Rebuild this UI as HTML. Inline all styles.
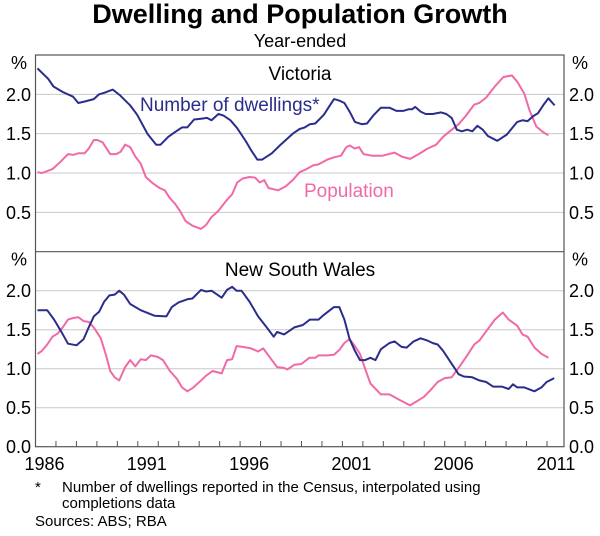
<!DOCTYPE html>
<html><head><meta charset="utf-8">
<style>
body{margin:0;background:#fff;}
svg text{font-family:"Liberation Sans",Arial,sans-serif;}
</style></head>
<body>
<svg id="c" width="600" height="531" viewBox="0 0 600 531" xmlns="http://www.w3.org/2000/svg">
<text x="300" y="23" text-anchor="middle" font-size="27" font-weight="bold" fill="#000">Dwelling and Population Growth</text>
<text x="300" y="47" text-anchor="middle" font-size="18" fill="#000">Year-ended</text>
<g id="plot"></g>
<text x="35" y="492" font-size="15" fill="#000">*</text>
<text x="62" y="492" font-size="15" fill="#000">Number of dwellings reported in the Census, interpolated using</text>
<text x="62" y="508" font-size="15" fill="#000">completions data</text>
<text x="35" y="526" font-size="15" fill="#000">Sources: ABS; RBA</text>
</svg>
<script>
// years since 1986
const vicDwT=[.10,.41,.61,.88,1.33,1.84,2.09,2.43,2.85,3.11,3.36,3.78,4.12,4.63,4.97,5.47,5.90,6.11,6.49,6.82,7.16,7.42,7.75,8.09,8.38,8.60,8.94,9.19,9.53,9.86,10.29,10.54,10.84,11.08,11.55,11.98,12.57,12.91,13.16,13.41,13.67,14.09,14.34,14.59,14.85,15.10,15.35,15.61,15.95,16.20,16.54,16.88,17.30,17.64,17.97,18.23,18.40,18.56,18.82,19.07,19.41,19.83,20.08,20.34,20.59,20.84,21.10,21.35,21.60,21.86,22.11,22.57,23.04,23.29,23.55,23.80,24.05,24.31,24.56,24.81,25.07,25.37];
const vicDwV=[2.33,2.25,2.20,2.10,2.03,1.97,1.89,1.91,1.94,2.00,2.02,2.06,1.99,1.86,1.74,1.50,1.36,1.36,1.46,1.52,1.58,1.58,1.68,1.69,1.70,1.67,1.75,1.73,1.67,1.57,1.40,1.29,1.17,1.17,1.25,1.36,1.50,1.56,1.58,1.62,1.63,1.74,1.84,1.94,1.92,1.89,1.78,1.65,1.62,1.63,1.74,1.83,1.83,1.79,1.79,1.81,1.81,1.84,1.78,1.75,1.75,1.77,1.75,1.70,1.55,1.53,1.55,1.53,1.60,1.55,1.47,1.41,1.49,1.57,1.65,1.67,1.66,1.72,1.76,1.86,1.95,1.86];
const vicPopT=[.10,.32,.83,1.25,1.59,1.84,2.09,2.40,2.60,2.85,3.02,3.28,3.65,3.95,4.16,4.38,4.63,4.88,5.14,5.39,5.73,6.06,6.32,6.57,6.82,7.08,7.33,7.67,8.09,8.34,8.60,8.94,9.36,9.61,9.86,10.12,10.46,10.74,10.96,11.18,11.39,11.86,12.23,12.57,12.91,13.24,13.58,13.83,14.26,14.59,14.93,15.19,15.35,15.61,15.81,16.03,16.45,16.96,17.55,17.89,18.31,18.73,19.16,19.58,19.92,20.25,20.68,21.01,21.44,21.69,22.03,22.45,22.87,23.29,23.55,23.89,24.14,24.48,24.81,25.07];
const vicPopV=[1.01,1.00,1.05,1.15,1.24,1.23,1.25,1.25,1.31,1.42,1.42,1.39,1.24,1.24,1.27,1.36,1.33,1.21,1.12,0.95,0.87,0.81,0.78,0.68,0.61,0.51,0.39,0.33,0.29,0.34,0.44,0.52,0.66,0.73,0.88,0.93,0.95,0.94,0.88,0.91,0.81,0.78,0.83,0.91,1.01,1.05,1.10,1.11,1.17,1.20,1.22,1.33,1.35,1.31,1.33,1.24,1.22,1.22,1.26,1.21,1.18,1.24,1.31,1.36,1.46,1.53,1.62,1.72,1.87,1.89,1.96,2.10,2.22,2.24,2.16,2.01,1.80,1.59,1.52,1.48];
const nswDwT=[.10,.57,.91,1.25,1.59,2.01,2.35,2.60,2.85,3.11,3.36,3.61,3.87,4.09,4.32,4.63,5.14,5.81,6.40,6.66,6.99,7.42,7.67,8.09,8.34,8.60,9.10,9.36,9.61,9.83,10.07,10.46,10.88,11.30,11.64,11.81,12.15,12.65,13.07,13.41,13.83,14.09,14.59,14.85,15.10,15.35,15.61,15.86,16.11,16.37,16.62,16.88,17.30,17.55,17.89,18.14,18.48,18.82,19.16,19.41,19.66,19.92,20.25,20.68,20.93,21.35,21.69,22.03,22.36,22.79,23.13,23.34,23.55,23.89,24.39,24.73,24.98,25.35];
const nswDwV=[1.75,1.75,1.63,1.48,1.32,1.30,1.38,1.53,1.67,1.73,1.86,1.94,1.95,2.00,1.95,1.83,1.75,1.68,1.67,1.79,1.85,1.89,1.90,2.01,1.99,2.00,1.91,2.01,2.05,2.00,2.00,1.86,1.67,1.53,1.41,1.47,1.44,1.53,1.56,1.63,1.63,1.69,1.79,1.79,1.63,1.38,1.23,1.11,1.11,1.14,1.11,1.25,1.33,1.35,1.28,1.27,1.35,1.39,1.36,1.33,1.31,1.23,1.10,0.93,0.90,0.89,0.85,0.83,0.77,0.77,0.74,0.80,0.76,0.76,0.71,0.76,0.83,0.88];
const nswPopT=[.10,.32,.57,.83,1.08,1.33,1.59,1.84,2.09,2.35,2.60,2.85,3.19,3.45,3.65,3.87,4.09,4.38,4.63,4.88,5.14,5.39,5.64,5.98,6.23,6.57,6.91,7.16,7.42,7.67,8.01,8.34,8.65,9.10,9.36,9.61,9.83,10.12,10.54,10.88,11.13,11.47,11.81,12.15,12.31,12.65,12.99,13.38,13.67,13.83,14.26,14.59,14.85,15.10,15.35,15.61,15.86,16.11,16.37,16.88,17.30,17.72,18.31,18.99,19.32,19.66,20.00,20.34,20.76,21.10,21.44,21.69,22.03,22.45,22.84,23.13,23.55,23.80,24.05,24.39,24.73,25.07];
const nswPopV=[1.19,1.23,1.31,1.41,1.45,1.53,1.63,1.65,1.66,1.61,1.60,1.53,1.39,1.17,0.97,0.89,0.85,1.02,1.11,1.03,1.12,1.11,1.17,1.15,1.11,0.97,0.87,0.76,0.71,0.75,0.83,0.91,0.97,0.94,1.11,1.12,1.29,1.28,1.26,1.22,1.26,1.14,1.02,1.01,0.99,1.05,1.06,1.14,1.14,1.17,1.17,1.18,1.24,1.33,1.38,1.29,1.19,1.00,0.81,0.67,0.67,0.61,0.53,0.64,0.73,0.83,0.88,0.89,1.04,1.17,1.31,1.36,1.48,1.63,1.72,1.63,1.55,1.44,1.41,1.27,1.19,1.14];
const yTicks=[0.5,1.0,1.5,2.0];
const yTicksBottom=[0.0,0.5,1.0,1.5,2.0];
const xLabels=["1986","1991","1996","2001","2006","2011"];

const NS="http://www.w3.org/2000/svg";
const g=document.getElementById('plot');
const L=35.5,R=564,x0=1986,pxYear=20.46;
const panels=[{top:55,bot:251.7,name:'victoria'},{top:251.7,bot:446.7,name:'nsw'}];
function xs(t){return L+t*pxYear;}
function ys(p,v){return p.bot-(v/2.5)*(p.bot-p.top);}
function mk(tag,attrs){const e=document.createElementNS(NS,tag);for(const k in attrs)e.setAttribute(k,attrs[k]);g.appendChild(e);return e;}
const navy="#2a2d8c",pink="#f06aa8";

panels.forEach((p,i)=>{
  const ticks=i===0?yTicks:yTicksBottom;
  ticks.forEach(v=>{
    if(v>0){const gl=mk('line',{x1:L,x2:R,y1:ys(p,v),y2:ys(p,v),stroke:'#c8c8c8','stroke-width':1});
    
    }
    const a=mk('text',{x:31,y:ys(p,v)+6.5,'text-anchor':'end','font-size':18});a.textContent=v.toFixed(1);
    
    
    const b=mk('text',{x:569,y:ys(p,v)+6.5,'font-size':18});b.textContent=v.toFixed(1);
    
    
  });
  const pl=mk('text',{x:19,y:p.top+14,'text-anchor':'middle','font-size':18});pl.textContent='%';
  
  
  const pr=mk('text',{x:580,y:p.top+14,'text-anchor':'middle','font-size':18});pr.textContent='%';
  
  
});
const fr=mk('rect',{x:L,y:55,width:R-L,height:446.7-55,fill:'none',stroke:'#555','stroke-width':1.2});


const dv=mk('line',{x1:L,x2:R,y1:251.7,y2:251.7,stroke:'#555','stroke-width':1.2});


for(let k=1;k<=25;k++){
  const t=mk('line',{x1:xs(k),x2:xs(k),y1:446.7,y2:441,stroke:'#555','stroke-width':1});
  
  
}
xLabels.forEach(s=>{
  const yr=+s-x0;let cx=xs(yr)+9;
  const t=mk('text',{x:cx,y:470,'text-anchor':'middle','font-size':18});t.textContent=s;
  
  
});
function line(p,T,V,col,name){
  const d=T.map((t,i)=>(i?'L':'M')+xs(t).toFixed(1)+','+ys(p,V[i]).toFixed(1)).join('');
  const e=mk('path',{d:d,fill:'none',stroke:col,'stroke-width':2,'stroke-linejoin':'round'});
  
  
}
line(panels[0],vicPopT,vicPopV,pink,'vic-population-line');
line(panels[0],vicDwT,vicDwV,navy,'vic-dwellings-line');
line(panels[1],nswPopT,nswPopV,pink,'nsw-population-line');
line(panels[1],nswDwT,nswDwV,navy,'nsw-dwellings-line');
function lab(x,y,s,col,name,anchor){
  const t=mk('text',{x:x,y:y,'font-size':19,fill:col,'text-anchor':anchor||'start'});t.textContent=s;
  
  
}
lab(300,80,'Victoria','#000','victoria-panel-title','middle');
lab(300,276,'New South Wales','#000','nsw-panel-title','middle');
lab(140,111,'Number of dwellings*',navy,'dwellings-series-label');
lab(304,197,'Population',pink,'population-series-label');
</script>
</body></html>
